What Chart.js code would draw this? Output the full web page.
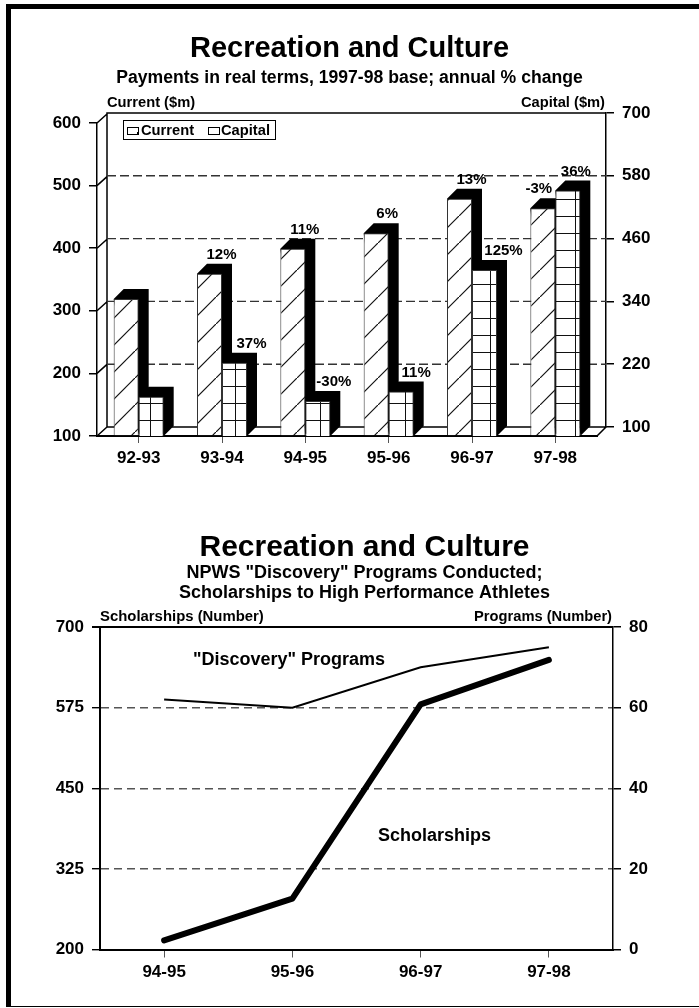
<!DOCTYPE html>
<html>
<head>
<meta charset="utf-8">
<title>Recreation and Culture</title>
<script src="https://cdn.jsdelivr.net/npm/chart.js@4"></script>
<style>
    html, body { margin: 0; padding: 0; background: #fff; }
    body { position: relative; width: 699px; height: 1008px; overflow: hidden; }
    canvas { position: absolute; left: 0; }
    #paymentsChart { top: 0; }
    #programsChart { top: 500px; }
    .frame { position: absolute; background: #000; }
</style>
</head>
<body>
<div class="frame" style="left:6px;top:4px;width:693px;height:5px"></div>
<div class="frame" style="left:6px;top:4px;width:5px;height:1003px"></div>
<div class="frame" style="left:6px;top:1006px;width:693px;height:1px"></div>
<canvas id="paymentsChart" width="699" height="480"></canvas>
<canvas id="programsChart" width="699" height="500"></canvas>
<script>
// Payments chart data
const paymentYears = ['92-93', '93-94', '94-95', '95-96', '96-97', '97-98'];
const currentPayments = [319, 359, 399, 424, 479, 464];
const capitalPayments = [175, 240, 167, 185, 417, 569];
const currentChange = ['', '12%', '11%', '6%', '13%', '-3%'];
const capitalChange = ['', '37%', '-30%', '11%', '125%', '36%'];
const currentTicks = [100, 200, 300, 400, 500, 600];
const capitalTicks = [100, 220, 340, 460, 580, 700];

// Programs chart data
const programYears = ['94-95', '95-96', '96-97', '97-98'];
const scholarships = [214, 279, 580, 649];
const discoveryPrograms = [62, 60, 70, 75];
const scholarshipTicks = [200, 325, 450, 575, 700];
const programTicks = [0, 20, 40, 60, 80];

const FONT = "'Liberation Sans', Arial, sans-serif";
Chart.defaults.font.family = FONT;
Chart.defaults.font.weight = 'bold';
Chart.defaults.color = '#000';
Chart.defaults.animation = false;

function hatchPattern() {
    const c = document.createElement('canvas');
    c.width = 27;
    c.height = 27;
    const g = c.getContext('2d');
    g.fillStyle = '#fff';
    g.fillRect(0, 0, 27, 27);
    g.strokeStyle = '#111';
    g.lineWidth = 1.2;
    g.beginPath();
    g.moveTo(-2, 29);
    g.lineTo(29, -2);
    g.stroke();
    return g.createPattern(c, 'repeat');
}

function gridPattern() {
    const c = document.createElement('canvas');
    c.width = 85;
    c.height = 17;
    const g = c.getContext('2d');
    g.fillStyle = '#fff';
    g.fillRect(0, 0, 85, 17);
    g.fillStyle = '#111';
    [8, 36, 65].forEach(x => g.fillRect(x, 0, 1, 17));
    g.fillRect(0, 12, 85, 1);
    return g.createPattern(c, 'repeat');
}

function place(scale, left, top, right, bottom) {
    scale.left = left;
    scale.top = top;
    scale.right = right;
    scale.bottom = bottom;
    scale.width = right - left;
    scale.height = bottom - top;
    scale.configure();
}

function setArea(chart, left, top, right, bottom) {
    const a = chart.chartArea;
    a.left = left;
    a.top = top;
    a.right = right;
    a.bottom = bottom;
    a.width = right - left;
    a.height = bottom - top;
}

function label(ctx, text, x, y, size, align) {
    ctx.save();
    ctx.font = 'bold ' + size + 'px ' + FONT;
    ctx.fillStyle = '#000';
    ctx.textAlign = align || 'center';
    ctx.textBaseline = 'alphabetic';
    ctx.fillText(text, x, y);
    ctx.restore();
}

function tickAxis(values, position, extra) {
    return Object.assign({
        position: position,
        min: values[0],
        max: values[values.length - 1],
        afterBuildTicks: axis => { axis.ticks = values.map(v => ({ value: v })); },
        border: { color: '#000', width: 1.5 },
        grid: { drawOnChartArea: false, tickColor: '#000', tickLength: 8, lineWidth: 1.5 },
        ticks: { font: { size: 17, weight: 'bold' }, padding: 8, autoSkip: false }
    }, extra);
}

const DEPTH_X = 10, DEPTH_Y = 9, BAR_DEPTH = 10;

const paymentsPlugin = {
    id: 'payments3d',
    afterLayout(chart) {
        const s = chart.scales;
        place(s.x, 97, 436, 597, 470);
        place(s.y, 40, 123, 97, 436);
        place(s.yFront, 40, 122, 97, 436);
        place(s.y1, 606, 113, 660, 427);
        setArea(chart, 97, 113, 606, 436);
    },
    beforeDatasetsDraw(chart) {
        const ctx = chart.ctx, s = chart.scales;
        const backL = 97 + DEPTH_X, backR = 606, backTop = 113, backBottom = 427, front = 97;
        ctx.save();
        ctx.strokeStyle = '#000';
        ctx.lineWidth = 1.5;
        ctx.beginPath();
        // back wall and floor
        ctx.moveTo(backL, backBottom);
        ctx.lineTo(backL, backTop);
        ctx.lineTo(backR, backTop);
        ctx.moveTo(backL, backBottom);
        ctx.lineTo(backR, backBottom);
        ctx.lineTo(597, 436);
        // side wall steps
        currentTicks.forEach(v => {
            const y = s.y.getPixelForValue(v);
            ctx.moveTo(front, y);
            ctx.lineTo(backL, y - DEPTH_Y);
        });
        ctx.stroke();
        // dashed levels on the back wall
        ctx.lineWidth = 1.4;
        ctx.strokeStyle = '#333';
        ctx.setLineDash([9, 4]);
        ctx.beginPath();
        capitalTicks.slice(1, -1).forEach(v => {
            const y = s.y1.getPixelForValue(v);
            ctx.moveTo(backL, y);
            ctx.lineTo(backR, y);
        });
        ctx.stroke();
        ctx.setLineDash([]);
        // black top and side of each bar
        ctx.fillStyle = '#000';
        [0, 1].forEach(i => {
            chart.getDatasetMeta(i).data.forEach(bar => {
                const l = bar.x - bar.width / 2, r = bar.x + bar.width / 2;
                ctx.beginPath();
                ctx.moveTo(l, bar.y);
                ctx.lineTo(l + BAR_DEPTH, bar.y - BAR_DEPTH);
                ctx.lineTo(r + BAR_DEPTH, bar.y - BAR_DEPTH);
                ctx.lineTo(r + BAR_DEPTH, bar.base - BAR_DEPTH);
                ctx.lineTo(r, bar.base);
                ctx.closePath();
                ctx.fill();
            });
        });
        ctx.restore();
    },
    afterDatasetsDraw(chart) {
        const ctx = chart.ctx;
        // change labels sit a little right of their bar, per the original layout
        const currentShift = [0, 12, 12, 11, 12, -4];
        const capitalShift = [0, 17, 16, 15, 19, 8];
        chart.getDatasetMeta(0).data.forEach((bar, i) => {
            label(ctx, currentChange[i], bar.x + currentShift[i], bar.y - 15, 15);
        });
        chart.getDatasetMeta(1).data.forEach((bar, i) => {
            label(ctx, capitalChange[i], bar.x + capitalShift[i], bar.y - 15, 15);
        });
        label(ctx, 'Current ($m)', 107, 107, 14.7, 'left');
        label(ctx, 'Capital ($m)', 605, 107, 14.7, 'right');

        // legend
        ctx.save();
        ctx.fillStyle = '#fff';
        ctx.strokeStyle = '#000';
        ctx.lineWidth = 1;
        ctx.fillRect(123.5, 120.5, 152, 19);
        ctx.strokeRect(123.5, 120.5, 152, 19);
        [127.5, 208.5].forEach(x => {
            ctx.strokeRect(x, 127.5, 11, 7);
        });
        ctx.fillStyle = '#000';
        ctx.fillRect(137, 132, 2, 2);
        ctx.restore();
        label(ctx, chart.data.datasets[0].label, 141, 135, 14.7, 'left');
        label(ctx, chart.data.datasets[1].label, 221, 135, 14.7, 'left');
    }
};

new Chart(document.getElementById('paymentsChart'), {
    type: 'bar',
    data: {
        labels: paymentYears,
        datasets: [{
            label: 'Current',
            data: currentPayments,
            yAxisID: 'y',
            base: 100,
            backgroundColor: hatchPattern(),
            borderColor: '#333',
            borderWidth: 1
        }, {
            label: 'Capital',
            data: capitalPayments,
            yAxisID: 'yFront',
            base: 100,
            backgroundColor: gridPattern(),
            borderColor: '#333',
            borderWidth: 1
        }]
    },
    options: {
        responsive: false,
        devicePixelRatio: 1,
        categoryPercentage: 0.6,
        barPercentage: 1,
        scales: {
            x: {
                border: { color: '#000', width: 2 },
                grid: { offset: false, drawOnChartArea: false, tickColor: '#555', tickLength: 7 },
                ticks: { font: { size: 17, weight: 'bold' }, padding: 5, maxRotation: 0, autoSkip: false }
            },
            y: tickAxis(currentTicks, 'left'),
            y1: tickAxis(capitalTicks, 'right'),
            // capital bars stand on the front plane, the visible capital axis is on the back wall
            yFront: { display: false, min: 100, max: 700 }
        },
        plugins: {
            legend: { display: false },
            tooltip: { enabled: false },
            title: {
                display: true,
                text: 'Recreation and Culture',
                font: { size: 29, weight: 'bold' },
                padding: { top: 32, bottom: 0 }
            },
            subtitle: {
                display: true,
                text: 'Payments in real terms, 1997-98 base; annual % change',
                font: { size: 17.6, weight: 'bold' },
                padding: { top: 1, bottom: 0 }
            }
        }
    },
    plugins: [paymentsPlugin]
});

const programsPlugin = {
    id: 'programsFrame',
    afterLayout(chart) {
        const s = chart.scales;
        place(s.x, 100, 449.5, 613, 490);
        place(s.y, 40, 127, 100, 449.5);
        place(s.y1, 613, 127, 670, 449.5);
        setArea(chart, 100, 127, 613, 449.5);
        // the titles are centred a bit right of the page centre
        chart.boxes.forEach(b => {
            if (b.options && b.options.text !== undefined) {
                b.left += 15;
                b.right += 15;
            }
        });
    },
    beforeDatasetsDraw(chart) {
        const ctx = chart.ctx, a = chart.chartArea;
        ctx.save();
        ctx.strokeStyle = '#000';
        ctx.lineWidth = 2;
        ctx.beginPath();
        ctx.moveTo(a.left - 8, a.top);
        ctx.lineTo(a.right, a.top);
        ctx.stroke();
        ctx.restore();
    },
    afterDatasetsDraw(chart) {
        const ctx = chart.ctx;
        label(ctx, 'Scholarships (Number)', 100, 121, 14.9, 'left');
        label(ctx, 'Programs (Number)', 612, 121, 14.7, 'right');
        label(ctx, '"Discovery" Programs', 289, 165, 18);
        label(ctx, 'Scholarships', 434.5, 341, 18);
    }
};

new Chart(document.getElementById('programsChart'), {
    type: 'line',
    data: {
        labels: programYears,
        datasets: [{
            label: 'Scholarships',
            data: scholarships,
            yAxisID: 'y',
            borderColor: '#000',
            borderWidth: 6,
            borderCapStyle: 'round',
            borderJoinStyle: 'round',
            pointRadius: 0,
            tension: 0
        }, {
            label: '"Discovery" Programs',
            data: discoveryPrograms,
            yAxisID: 'y1',
            borderColor: '#000',
            borderWidth: 2,
            pointRadius: 0,
            tension: 0
        }]
    },
    options: {
        responsive: false,
        devicePixelRatio: 1,
        scales: {
            x: {
                offset: true,
                border: { color: '#000', width: 2 },
                grid: { offset: false, drawOnChartArea: false, tickColor: '#555', tickLength: 8 },
                ticks: { font: { size: 17, weight: 'bold' }, padding: 5, maxRotation: 0, autoSkip: false }
            },
            y: tickAxis(scholarshipTicks, 'left', {
                border: { color: '#000', width: 2, dash: [8, 5] },
                grid: {
                    color: c => (c.tick.value === 200 || c.tick.value === 700) ? 'transparent' : '#555',
                    tickColor: '#000',
                    tickLength: 8,
                    tickBorderDash: [],
                    lineWidth: 1.4
                }
            }),
            y1: tickAxis(programTicks, 'right')
        },
        plugins: {
            legend: { display: false },
            tooltip: { enabled: false },
            title: {
                display: true,
                text: 'Recreation and Culture',
                font: { size: 30, weight: 'bold', lineHeight: 1.05 },
                padding: { top: 32, bottom: 0 }
            },
            subtitle: {
                display: true,
                text: ['NPWS "Discovery" Programs Conducted;', 'Scholarships to High Performance Athletes'],
                font: { size: 18, weight: 'bold', lineHeight: 1.1 },
                padding: { top: 0, bottom: 0 }
            }
        }
    },
    plugins: [programsPlugin]
});
</script>
</body>
</html>
